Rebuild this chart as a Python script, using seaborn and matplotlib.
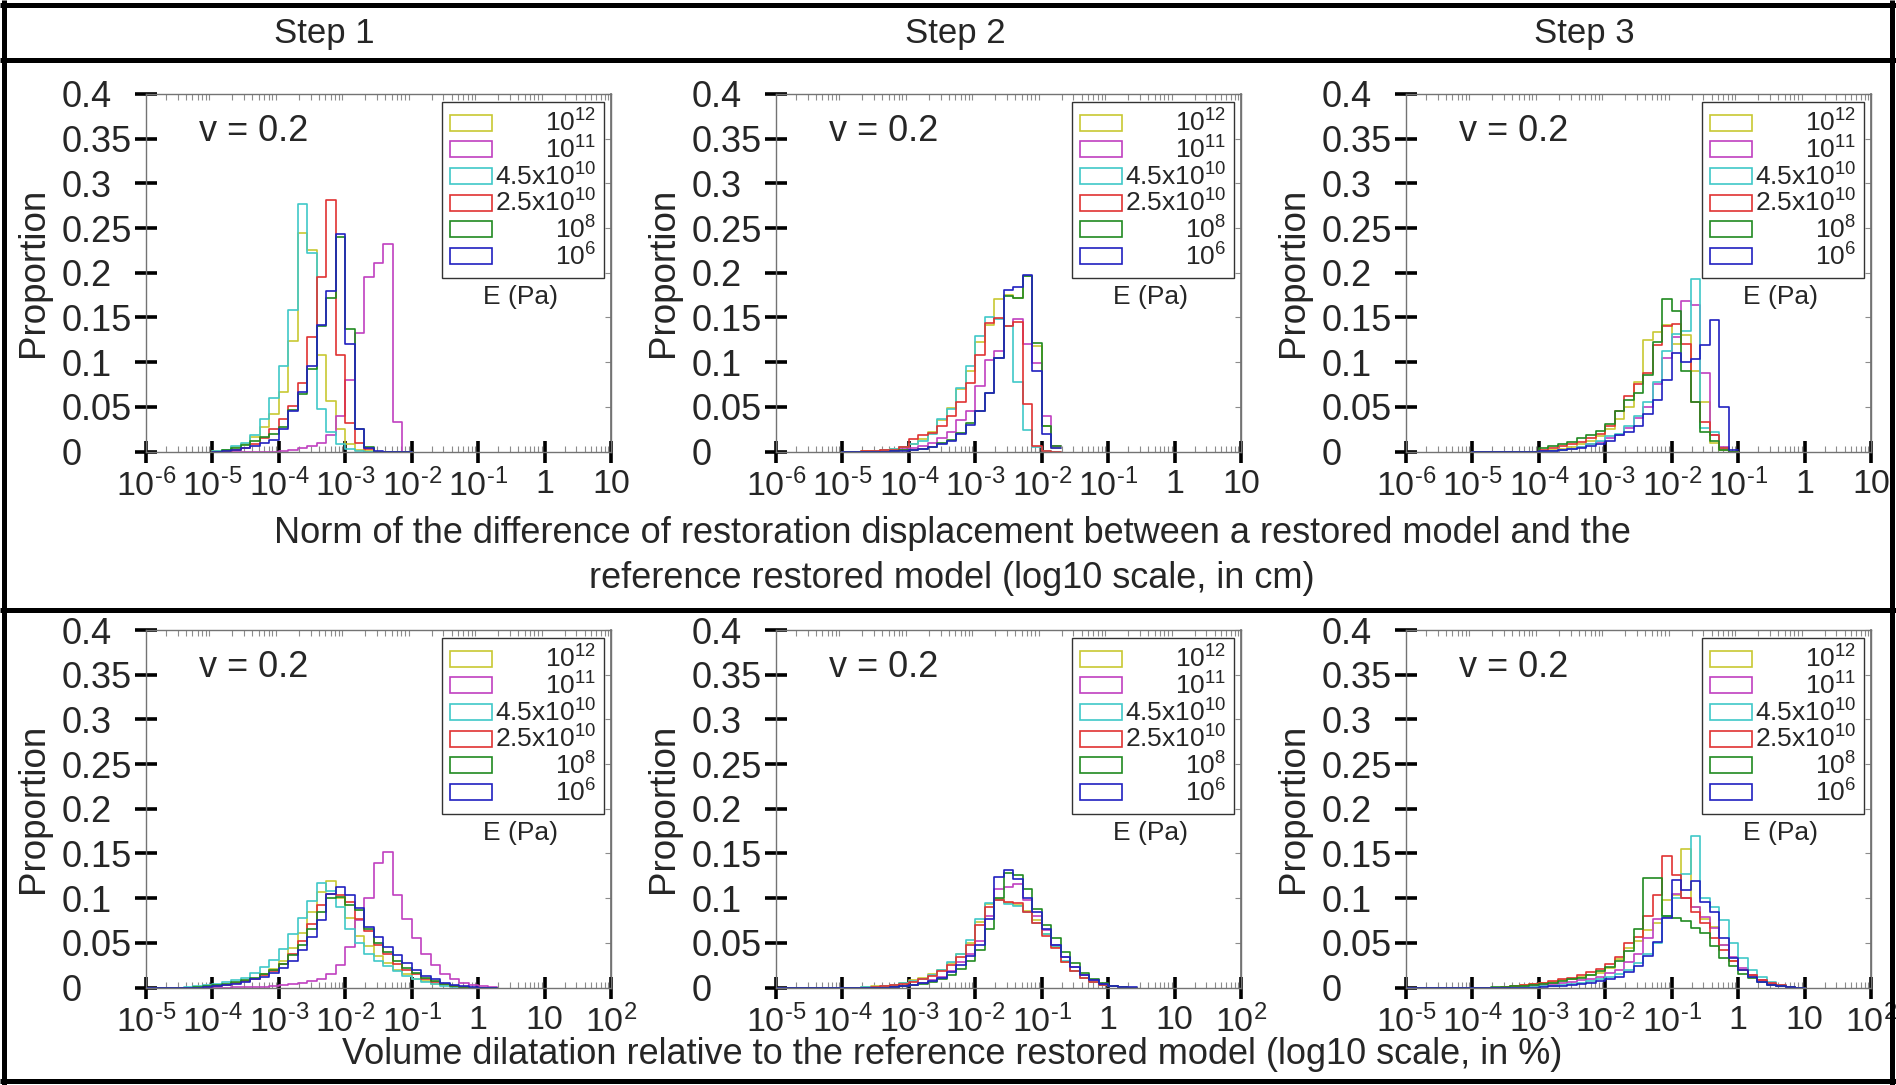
import numpy as np
import matplotlib
matplotlib.use("Agg")
import matplotlib.pyplot as plt
from matplotlib.lines import Line2D
from matplotlib.patches import Patch
from matplotlib.ticker import FixedLocator
import seaborn as sns

# series: Young's modulus E (Pa), drawn in this order
series_labels = [r"$10^{12}$", r"$10^{11}$", r"4.5x$10^{10}$", r"2.5x$10^{10}$", r"$10^{8}$", r"$10^{6}$"]
series_colors = ["#c8c832", "#c040c0", "#40c8c8", "#e03232", "#208a20", "#2020c0"]

step_titles = ["Step 1", "Step 2", "Step 3"]

# bins are 1/7 decade wide (log10 space); first bin starts at 10^-5 in every panel
bin_width = 1.0 / 7
first_edge = -5.0

# top row: norm of restoration displacement difference (proportion per bin)
disp_step1 = {
    "1e12":   [.001, .002, .005, .008, .016, .027, .042, .067, .124, .245, .226, .108, .056, .025, .008, .002, .001, 0, 0, 0, 0],
    "1e11":   [0, 0, 0, 0, 0, 0, 0, .001, .002, .004, .006, .010, .018, .040, .080, .133, .195, .211, .232, .033, 0],
    "4.5e10": [.001, .002, .006, .010, .019, .036, .060, .096, .158, .277, .222, .048, .022, .008, .003, .001, 0, 0, 0, 0, 0],
    "2.5e10": [0, .001, .002, .004, .008, .015, .025, .036, .051, .077, .128, .195, .281, .108, .032, .010, .003, 0, 0, 0, 0],
    "1e8":    [0, .002, .004, .007, .012, .016, .020, .027, .046, .064, .092, .140, .172, .240, .137, .025, .005, 0, 0, 0, 0],
    "1e6":    [0, .001, .002, .004, .006, .009, .013, .025, .045, .067, .096, .141, .180, .243, .120, .025, .004, .001, 0, 0, 0],
}
disp_step2 = {
    "1e12":   [0, 0, .001, .001, .002, .003, .005, .008, .014, .022, .035, .049, .070, .090, .123, .142, .171, .175, .172, .196, .118, .028, .004],
    "1e11":   [0, 0, 0, 0, .001, .001, .003, .004, .006, .010, .015, .022, .035, .045, .073, .102, .113, .140, .148, .120, .099, .040, .006],
    "4.5e10": [0, 0, 0, .001, .002, .003, .005, .008, .012, .020, .036, .048, .071, .096, .129, .150, .148, .140, .078, .024, .005, .001, 0],
    "2.5e10": [0, 0, .001, .001, .002, .002, .005, .014, .019, .021, .028, .040, .055, .077, .108, .144, .149, .140, .145, .053, .006, .001, 0],
    "1e8":    [0, 0, 0, 0, 0, .001, .002, .002, .003, .005, .009, .013, .021, .032, .045, .066, .105, .174, .172, .196, .121, .028, .006],
    "1e6":    [0, 0, 0, 0, 0, .001, .001, .002, .003, .005, .008, .012, .020, .030, .045, .065, .105, .181, .184, .198, .090, .020, .004],
}
disp_step3 = {
    "1e12":   [0, 0, 0, 0, 0, 0, 0, .001, .002, .003, .005, .008, .012, .017, .025, .036, .050, .078, .125, .134, .142, .120, .130, .090, .055, .010, .002, 0],
    "1e11":   [0, 0, 0, 0, 0, 0, 0, .001, .001, .002, .003, .005, .008, .011, .015, .019, .026, .037, .050, .075, .105, .128, .168, .164, .088, .019, .005, 0],
    "4.5e10": [0, 0, 0, 0, 0, 0, 0, .001, .001, .002, .003, .005, .008, .012, .017, .020, .028, .040, .055, .078, .112, .132, .135, .193, .026, .022, .004, 0],
    "2.5e10": [0, 0, 0, 0, 0, 0, 0, .002, .004, .006, .008, .011, .015, .020, .029, .045, .062, .076, .088, .119, .140, .143, .120, .055, .033, .019, .004, 0],
    "1e8":    [0, 0, 0, 0, 0, 0, 0, .004, .006, .008, .011, .015, .018, .023, .031, .045, .058, .066, .086, .123, .171, .157, .090, .055, .022, .012, .002, 0],
    "1e6":    [0, 0, 0, 0, 0, 0, 0, .001, .001, .002, .003, .004, .006, .008, .012, .018, .022, .028, .042, .058, .080, .110, .100, .104, .119, .147, .050, .002],
}

# bottom row: volume dilatation relative to reference (proportion per bin)
dil_step1 = {
    "1e12":   [0, 0, 0, 0, 0, .001, .001, .002, .003, .005, .007, .010, .015, .021, .030, .044, .061, .085, .107, .119, .100, .078, .058, .046, .035, .027, .020, .015, .010, .007, .004, .003, .002, .001, 0, 0, 0],
    "1e11":   [0, 0, 0, 0, 0, 0, 0, 0, 0, .001, .001, .001, .001, .002, .003, .004, .005, .007, .010, .015, .025, .045, .076, .100, .139, .152, .104, .077, .055, .038, .025, .015, .009, .005, .003, .002, .001],
    "4.5e10": [0, 0, 0, 0, .001, .002, .003, .004, .006, .008, .011, .016, .023, .031, .043, .060, .078, .097, .117, .108, .090, .066, .050, .038, .030, .024, .018, .013, .009, .006, .004, .002, .001, 0, 0, 0, 0],
    "2.5e10": [0, 0, 0, 0, 0, 0, .001, .002, .003, .005, .007, .010, .014, .019, .026, .038, .052, .071, .092, .105, .104, .096, .077, .063, .047, .037, .026, .020, .015, .010, .006, .004, .002, .001, 0, 0, 0],
    "1e8":    [0, 0, 0, 0, 0, .001, .002, .003, .004, .006, .008, .011, .015, .020, .026, .036, .048, .065, .085, .100, .101, .092, .087, .065, .050, .040, .030, .022, .016, .011, .007, .004, .002, .001, 0, 0, 0],
    "1e6":    [0, 0, 0, 0, 0, 0, .001, .002, .003, .004, .006, .009, .012, .016, .022, .030, .042, .056, .076, .105, .112, .104, .089, .068, .057, .045, .036, .027, .020, .013, .009, .005, .003, .002, .001, 0, 0],
}
dil_step2 = {
    "1e12":   [0, 0, 0, 0, 0, 0, 0, 0, 0, .001, .002, .002, .003, .005, .008, .011, .015, .020, .027, .037, .050, .073, .093, .099, .094, .092, .086, .075, .060, .045, .029, .018, .011, .006, .003, .002, .001, 0],
    "1e11":   [0, 0, 0, 0, 0, 0, 0, 0, 0, 0, 0, 0, .001, .002, .003, .005, .008, .012, .018, .028, .038, .052, .080, .110, .113, .116, .098, .080, .064, .048, .034, .023, .014, .008, .004, .002, .001, 0],
    "4.5e10": [0, 0, 0, 0, 0, 0, 0, 0, 0, .001, .001, .002, .003, .005, .007, .010, .014, .020, .028, .038, .053, .077, .095, .098, .093, .091, .085, .072, .060, .046, .030, .019, .011, .006, .003, .002, .001, 0],
    "2.5e10": [0, 0, 0, 0, 0, 0, 0, 0, 0, 0, .001, .002, .003, .004, .006, .009, .013, .019, .025, .034, .047, .070, .090, .098, .096, .094, .085, .072, .058, .044, .028, .018, .011, .006, .003, .002, .001, 0],
    "1e8":    [0, 0, 0, 0, 0, 0, 0, 0, 0, 0, 0, 0, .001, .002, .003, .004, .006, .009, .014, .021, .030, .042, .065, .100, .128, .126, .110, .088, .070, .055, .040, .027, .016, .009, .005, .002, .001, 0],
    "1e6":    [0, 0, 0, 0, 0, 0, 0, 0, 0, 0, 0, 0, .001, .002, .003, .005, .007, .011, .017, .025, .035, .048, .077, .124, .131, .121, .100, .085, .066, .048, .034, .023, .014, .008, .004, .002, .001, .001],
}
dil_step3 = {
    "1e12":   [0, 0, 0, 0, 0, 0, 0, 0, 0, 0, .001, .002, .003, .004, .005, .006, .008, .010, .012, .014, .016, .022, .032, .044, .052, .064, .072, .098, .103, .155, .090, .077, .068, .048, .030, .020, .013, .008, .004, .002, .001, 0],
    "1e11":   [0, 0, 0, 0, 0, 0, 0, 0, 0, 0, 0, 0, .001, .002, .003, .004, .005, .006, .008, .010, .012, .016, .020, .028, .038, .055, .077, .079, .105, .100, .090, .079, .067, .048, .034, .022, .014, .008, .004, .002, .001, 0],
    "4.5e10": [0, 0, 0, 0, 0, 0, 0, 0, 0, 0, 0, 0, .001, .001, .002, .002, .003, .004, .005, .007, .009, .012, .015, .020, .027, .038, .050, .080, .100, .127, .170, .100, .090, .075, .050, .033, .020, .012, .006, .003, .001, 0],
    "2.5e10": [0, 0, 0, 0, 0, 0, 0, 0, 0, 0, .001, .002, .003, .004, .005, .007, .009, .011, .014, .017, .021, .026, .034, .050, .056, .080, .104, .147, .126, .100, .085, .072, .055, .042, .030, .020, .014, .008, .005, .003, .001, 0],
    "1e8":    [0, 0, 0, 0, 0, 0, 0, 0, 0, .001, .001, .002, .002, .003, .004, .005, .007, .009, .011, .014, .018, .023, .030, .041, .066, .123, .122, .080, .078, .074, .067, .061, .046, .033, .024, .015, .011, .006, .003, .002, .001, 0],
    "1e6":    [0, 0, 0, 0, 0, 0, 0, 0, 0, 0, 0, 0, 0, 0, .001, .002, .002, .003, .004, .005, .007, .009, .012, .017, .024, .035, .051, .078, .120, .109, .119, .096, .084, .055, .033, .020, .012, .006, .003, .002, .001, 0],
}

top_xticklabels = [r"$10^{\text{-}6}$", r"$10^{\text{-}5}$", r"$10^{\text{-}4}$", r"$10^{\text{-}3}$",
                   r"$10^{\text{-}2}$", r"$10^{\text{-}1}$", "1", "10"]
bottom_xticklabels = [r"$10^{\text{-}5}$", r"$10^{\text{-}4}$", r"$10^{\text{-}3}$", r"$10^{\text{-}2}$",
                      r"$10^{\text{-}1}$", "1", "10", r"$10^{2}$"]
yticks = [0, 0.05, 0.1, 0.15, 0.2, 0.25, 0.3, 0.35, 0.4]
yticklabels = ["0", "0.05", "0.1", "0.15", "0.2", "0.25", "0.3", "0.35", "0.4"]

top_xlabel = ("Norm of the difference of restoration displacement between a restored model and the\n"
              "reference restored model (log10 scale, in cm)")
bottom_xlabel = "Volume dilatation relative to the reference restored model (log10 scale, in %)"

sns.set_theme(style="white")
plt.rcParams["font.family"] = ["Liberation Sans", "DejaVu Sans"]
plt.rcParams["mathtext.fontset"] = "custom"
plt.rcParams["mathtext.rm"] = "Liberation Sans"
plt.rcParams["mathtext.it"] = "Liberation Sans:italic"
plt.rcParams["mathtext.bf"] = "Liberation Sans:bold"

W, H = 1896, 1085
fig = plt.figure(figsize=(W / 100, H / 100), dpi=100)

col_left = [146, 776, 1406]
ax_w = 465
ax_h = 357.5
row_bottom = [451.5, 987.5]

panels = [
    (disp_step1, 0, 0), (disp_step2, 0, 1), (disp_step3, 0, 2),
    (dil_step1, 1, 0), (dil_step2, 1, 1), (dil_step3, 1, 2),
]


def style_axis(ax, xmin, labels):
    ax.set_xlim(xmin, xmin + 7)
    ax.set_ylim(0, 0.4)
    ax.set_xticks(np.arange(xmin, xmin + 8))
    ax.set_xticklabels(labels)
    minors = [d + np.log10(m) for d in range(xmin, xmin + 7) for m in range(2, 10)]
    ax.xaxis.set_minor_locator(FixedLocator(minors))
    ax.set_yticks(yticks)
    ax.set_yticklabels(yticklabels)
    for s in ax.spines.values():
        s.set_visible(True)
        s.set_color("0.45")
        s.set_linewidth(1.0)
    ax.tick_params(axis="x", which="major", direction="inout", length=16.5, width=2.6,
                   color="black", labelsize=24.5, pad=4, bottom=True, top=False)
    ax.tick_params(axis="x", which="minor", direction="in", length=4, width=0.8,
                   color="0.55", bottom=True, top=True)
    ax.tick_params(axis="y", which="major", direction="inout", length=16, width=2.6,
                   color="black", labelsize=26, pad=53, left=True, right=False)
    for lbl in ax.get_yticklabels():
        lbl.set_horizontalalignment("left")
    sec = ax.secondary_yaxis("right")
    sec.set_yticks(yticks)
    sec.tick_params(direction="in", length=4, width=0.8, color="0.55", labelright=False)
    sec.spines["right"].set_color("0.45")
    ax.set_xlabel("")
    ax.set_ylabel("Proportion", fontsize=26.5)
    ax.yaxis.set_label_coords(-0.204, 0.5)


legends = []
for data, row, col in panels:
    left = col_left[col] / W
    bottom = 1 - row_bottom[row] / H
    ax = fig.add_axes([left, bottom, ax_w / W, ax_h / H])
    for (key, heights), color in zip(data.items(), series_colors):
        heights = np.asarray(heights)
        edges = first_edge + bin_width * np.arange(len(heights) + 1)
        centers = 0.5 * (edges[:-1] + edges[1:])
        sns.histplot(x=centers, weights=heights, bins=list(edges), element="step", fill=False,
                     color=color, linewidth=1.2, ax=ax)
    xmin = -6 if row == 0 else -5
    style_axis(ax, xmin, top_xticklabels if row == 0 else bottom_xticklabels)

    ax.text(0.115, 0.895, "v = 0.2", transform=ax.transAxes, fontsize=26,
            ha="left", va="center")
    handles = [Patch(facecolor="none", edgecolor=c, linewidth=1.2) for c in series_colors]
    leg = ax.legend(handles, series_labels, loc="upper right", bbox_to_anchor=(0.985, 0.978),
                    fontsize=19, handlelength=1.6, handleheight=0.55, labelspacing=-0.02,
                    borderpad=0.3, handletextpad=0.1, borderaxespad=0, frameon=True,
                    fancybox=False, edgecolor="0.2", framealpha=1)
    leg.get_frame().set_linewidth(1.0)
    legends.append(leg)
    ax.text(0.805, 0.432, "E (Pa)", transform=ax.transAxes, fontsize=19,
            ha="center", va="center")

# right-align the legend labels
fig.canvas.draw()
renderer = fig.canvas.get_renderer()
for leg in legends:
    widths = [t.get_window_extent(renderer).width for t in leg.get_texts()]
    widest = max(widths)
    for t, w in zip(leg.get_texts(), widths):
        t.set_position((widest - w, 0))

# headers and shared axis labels
for title, x in zip(step_titles, [324, 955, 1584]):
    fig.text(x / W, 1 - 34 / H, title, fontsize=25, ha="center", va="center")
fig.text(952 / W, 1 - 556 / H, top_xlabel, fontsize=26, ha="center", va="center",
         linespacing=1.35)
fig.text(952 / W, 1 - 1054 / H, bottom_xlabel, fontsize=26, ha="center", va="center")

# frame and separators
frame_kw = dict(color="black", linewidth=3.6, transform=fig.transFigure, solid_capstyle="butt")
fig.add_artist(Line2D([4 / W, 4 / W], [0, 1], **frame_kw))
fig.add_artist(Line2D([1892 / W, 1892 / W], [0, 1], **frame_kw))
fig.add_artist(Line2D([0, 1], [1 - 5 / H, 1 - 5 / H], **frame_kw))
fig.add_artist(Line2D([0, 1], [1 - 1081 / H, 1 - 1081 / H], **frame_kw))
fig.add_artist(Line2D([0, 1], [1 - 60 / H, 1 - 60 / H], **frame_kw))
fig.add_artist(Line2D([0, 1], [1 - 610 / H, 1 - 610 / H], **frame_kw))

plt.savefig("out.png", dpi=100)
